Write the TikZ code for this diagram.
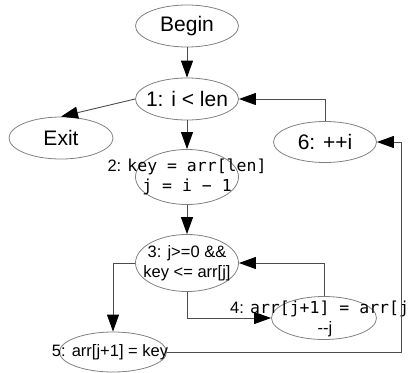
\documentclass[tikz,border=0pt]{standalone}
\usepackage{fontspec}
\setmainfont{Liberation Sans}
\setmonofont{DejaVu Sans Mono}
\usetikzlibrary{shapes.geometric,arrows.meta}
\begin{document}
\begin{tikzpicture}[x=1pt,y=-1pt,
  oval/.style={ellipse,draw=black!50,line width=0.8pt,inner sep=0pt,
    minimum width=103pt},
  big/.style={font=\fontsize{21}{24}\selectfont,inner sep=0pt},
  small/.style={font=\fontsize{16.5}{20}\selectfont,align=center,inner sep=0pt},
  flow/.style={draw=black!70,line width=0.9pt,
    -{Triangle[length=17pt,width=12pt,color=black]}},
]
\useasboundingbox (0,0) rectangle (412,372);
\clip (0,0) rectangle (412,372);

% ellipses (text is placed on top separately so it may overflow)
\node[oval,minimum height=42pt] (begin) at (187,26) {};
\node[oval,minimum height=42pt] (n1) at (187,99) {};
\node[oval,minimum height=42pt,minimum width=104pt] (exit) at (61,138) {};
\node[oval,minimum height=55pt] (n2) at (187,177) {};
\node[oval,minimum height=57pt] (n3) at (187,263) {};
\node[oval,minimum height=43pt,minimum width=105pt] (n4) at (324,318) {};
\node[oval,minimum height=40pt,minimum width=107pt] (n5) at (113,352) {};
\node[oval,minimum height=41pt] (n6) at (325,142) {};

% labels
\node[big] (tbegin) at (begin) {Begin};
\node[big] (t1) at (n1) {1: i < len};
\node[big] (texit) at (exit) {Exit};
\node[big] (t6) at (n6) {6: ++i};
\node[small] (t2) at (n2) {2: \texttt{key = arr[len]}\\\texttt{j = i − 1}};
\node[small] (t3) at (n3) {3: j>=0 \&\&\\key <= arr[j]};
\node[small,anchor=west] (t4a) at (230,309) {4: \texttt{arr[j+1] = arr[j}};
\node[small] (t4b) at (325,329) {{-}{-}j};
\node[small] (t5) at ([xshift=-3pt]n5.center) {5: arr[j+1] = key};

% connectors
\coordinate (loopright) at (401,142);
\draw[flow] (begin) -- (n1);
\draw[flow] (n1) -- (n2);
\draw[flow] (n2) -- (n3);
\draw[flow] (n1.west) -- (exit.north);
\draw[flow] (n6.north) |- (n1.east);
\draw[flow] (n3.west) -| (n5.north);
\draw[flow] (n3.south) |- (n4.west);
\draw[flow] (n4.north) |- (n3.east);
\draw[flow] (n5.east) -| (loopright) -- (n6.east);
\end{tikzpicture}
\end{document}
